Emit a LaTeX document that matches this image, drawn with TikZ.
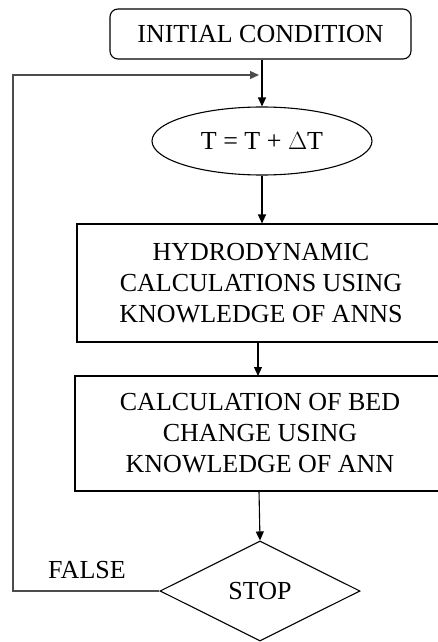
\documentclass[tikz,border=0pt]{standalone}
\usepackage{fontspec}
\setmainfont{Liberation Serif}
\usetikzlibrary{arrows.meta,shapes.geometric}
\tikzset{
  base/.style={draw=black, line width=1.1pt, inner sep=0pt, align=center,
    font=\fontsize{26}{31}\selectfont},
  startbox/.style={base, rectangle, rounded corners=8pt},
  procbox/.style={base, rectangle},
  oval/.style={base, ellipse},
  decision/.style={base, diamond},
  link/.style={draw=black, line width=1.1pt, -{Triangle[length=9pt,width=8pt]}},
  loopline/.style={draw=black!70, line width=1.3pt, -{Triangle[length=9pt,width=8pt]}}
}
\begin{document}
\begin{tikzpicture}[x=1pt,y=-1pt]
  \useasboundingbox (0,0) rectangle (438,642);
  \clip (0,0) rectangle (438,642);

  % flowchart steps
  \node[startbox, minimum width=301pt, minimum height=50pt] (init) at (260.5,34) {INITIAL CONDITION};
  \node[oval, minimum width=220pt, minimum height=68pt] (step) at (262,141) {T = T + $\Delta$T};
  \node[procbox, minimum width=368pt, minimum height=118pt] (hydro) at (261,283)
    {HYDRODYNAMIC\\CALCULATIONS USING\\KNOWLEDGE OF ANNS};
  \node[procbox, minimum width=370pt, minimum height=115pt] (bed) at (260,433.5)
    {CALCULATION OF BED\\CHANGE USING\\KNOWLEDGE OF ANN};
  \node[decision, minimum width=200pt, minimum height=100pt] (stop) at (260,591) {STOP};

  % loop-back route
  \coordinate (join) at (262,75);
  \coordinate (corner) at (13,75);
  \node[font=\fontsize{26}{31}\selectfont, anchor=base west, inner sep=0pt] (false) at (48,578) {FALSE};

  % connectors
  \draw[link] (init.south -| step.north) -- (step.north);
  \draw[link] (step.south) -- (step.south |- hydro.north);
  \draw[link] (258,342) -- (258,376);
  \draw[link] (259,491) -- (stop.north);
  \draw[loopline] (stop.west) -| (corner) -- ([xshift=-3pt]join);
\end{tikzpicture}
\end{document}
